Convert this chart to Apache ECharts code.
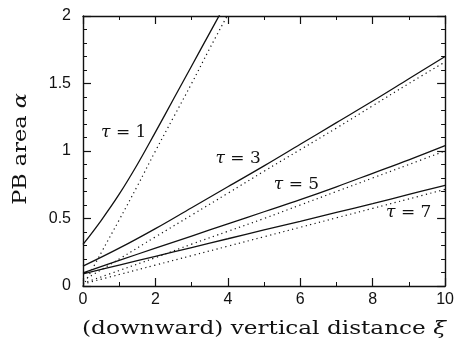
<!DOCTYPE html>
<html>
<head>
<meta charset="utf-8">
<script src="https://cdn.jsdelivr.net/npm/echarts@6/dist/echarts.min.js"></script>
<style>
  html, body { margin: 0; padding: 0; background: #fff; }
  #chart { width: 457px; height: 349px; }
</style>
</head>
<body>
<div id="chart"></div>
<script>
// Sample positions along the vertical distance axis
const xiTau1 = [0, 0.5, 1, 1.5, 2, 2.5, 3, 3.5, 4];
const xiGrid = [0, 1, 2, 3, 4, 5, 6, 7, 8, 9, 10];

// PB area: full solution (solid) and approximation (dotted), per tau
const tau1Solid  = [0.308, 0.485, 0.68, 0.90, 1.14, 1.385, 1.63, 1.875, 2.12];
const tau1Dotted = [0.0, 0.245, 0.49, 0.74, 1.0, 1.25, 1.5, 1.76, 2.01];
const tau3Solid  = [0.147, 0.28, 0.425, 0.58, 0.735, 0.89, 1.05, 1.21, 1.37, 1.535, 1.70];
const tau3Dotted = [0.04, 0.20, 0.364, 0.525, 0.687, 0.85, 1.01, 1.17, 1.335, 1.50, 1.66];
const tau5Solid  = [0.098, 0.19, 0.28, 0.37, 0.46, 0.55, 0.64, 0.735, 0.835, 0.935, 1.04];
const tau5Dotted = [0.02, 0.115, 0.21, 0.31, 0.405, 0.50, 0.60, 0.70, 0.80, 0.90, 1.0];
const tau7Solid  = [0.09, 0.155, 0.22, 0.285, 0.35, 0.415, 0.478, 0.545, 0.61, 0.678, 0.746];
const tau7Dotted = [0.015, 0.085, 0.155, 0.225, 0.295, 0.365, 0.435, 0.505, 0.575, 0.645, 0.716];

const tauLabels = ['1', '3', '5', '7'];
const xTicks = [0, 2, 4, 6, 8, 10];
const yTicks = [0, 0.5, 1, 1.5, 2];

const pairs = (xs, ys) => ys.map((y, i) => [xs[i], y]);

const ink = '#111';
const serif = '"DejaVu Serif", serif';
const sans = '"Liberation Sans", Arial, sans-serif';

function solid(xs, ys) {
  return {
    type: 'line', data: pairs(xs, ys), showSymbol: false, smooth: 0.4,
    lineStyle: { color: ink, width: 1.3 }, silent: true, animation: false
  };
}
function dotted(xs, ys) {
  return {
    type: 'line', data: pairs(xs, ys), showSymbol: false, smooth: 0.4,
    lineStyle: { color: ink, width: 1.2, type: [1.2, 3.4] }, silent: true, animation: false
  };
}

function frameAxis(extra, minorSplit) {
  return Object.assign({
    type: 'value',
    axisLine: { show: true, onZero: false, lineStyle: { color: ink, width: 1.4 } },
    axisTick: { show: true, inside: true, length: 8, lineStyle: { color: ink, width: 1.2 } },
    minorTick: { show: true, splitNumber: minorSplit, length: 4, lineStyle: { color: ink, width: 1 } },
    splitLine: { show: false },
    minorSplitLine: { show: false }
  }, extra);
}

const xCommon = { min: xTicks[0], max: xTicks[xTicks.length - 1], interval: 2 };
const yCommon = { min: yTicks[0], max: yTicks[yTicks.length - 1], interval: 0.5 };

const chart = echarts.init(document.getElementById('chart'));
chart.setOption({
  animation: false,
  backgroundColor: '#fff',
  grid: { left: 83, top: 16, right: 10, bottom: 63 },
  xAxis: [
    frameAxis(Object.assign({}, xCommon, {
      position: 'bottom',
      axisLabel: { color: ink, fontFamily: sans, fontSize: 16, margin: 6 }
    }), 2),
    frameAxis(Object.assign({}, xCommon, {
      position: 'top',
      axisLabel: { show: false }
    }), 2)
  ],
  yAxis: [
    frameAxis(Object.assign({}, yCommon, {
      position: 'left',
      axisLabel: { color: ink, fontFamily: sans, fontSize: 16, margin: 12 }
    }), 5),
    frameAxis(Object.assign({}, yCommon, {
      position: 'right',
      axisLabel: { show: false }
    }), 5)
  ],
  series: [
    solid(xiTau1, tau1Solid), dotted(xiTau1, tau1Dotted),
    solid(xiGrid, tau3Solid), dotted(xiGrid, tau3Dotted),
    solid(xiGrid, tau5Solid), dotted(xiGrid, tau5Dotted),
    solid(xiGrid, tau7Solid), dotted(xiGrid, tau7Dotted)
  ]
});

// Wide serif axis titles
const titleRich = { i: { fontFamily: serif, fontStyle: 'italic', fontSize: 19, fill: ink } };
const axisTitles = [
  {
    type: 'text', x: 264, y: 329, scaleX: 1.22, silent: true,
    style: {
      text: '(downward) vertical distance {i|ξ}', fill: ink, font: '19px ' + serif,
      align: 'center', verticalAlign: 'middle', rich: titleRich
    }
  },
  {
    type: 'text', x: 21, y: 149, rotation: Math.PI / 2, scaleX: 1.18, silent: true,
    style: {
      text: 'PB area {i|α}', fill: ink, font: '19px ' + serif,
      align: 'center', verticalAlign: 'middle', rich: titleRich
    }
  }
];

// Curve annotations, placed in data coordinates
const labelSpots = [[0.5, 1.14], [3.66, 0.947], [5.27, 0.754], [8.37, 0.547]];
const curveNotes = tauLabels.map((t, i) => {
  const p = chart.convertToPixel({ xAxisIndex: 0, yAxisIndex: 0 }, labelSpots[i]);
  return {
    type: 'text', x: p[0], y: p[1], silent: true,
    style: {
      text: '{g|τ} = ' + t,
      fill: ink, font: '17px ' + serif,
      verticalAlign: 'middle', align: 'left',
      rich: { g: { fontFamily: serif, fontStyle: 'italic', fontSize: 17, fill: ink } }
    }
  };
});

chart.setOption({ graphic: axisTitles.concat(curveNotes) });
</script>
</body>
</html>
